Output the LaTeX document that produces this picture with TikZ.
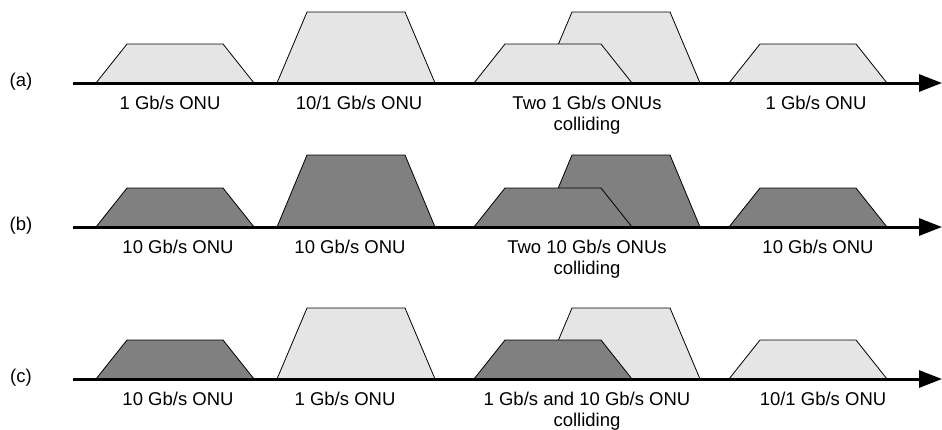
\documentclass[tikz,border=0pt]{standalone}
\usepackage{fontspec}
\setmainfont{Liberation Sans}
\usetikzlibrary{arrows.meta}
\definecolor{lightfill}{HTML}{E5E5E5}
\definecolor{darkfill}{HTML}{808080}
\newcommand\trapz[5]{% style, left x, axis y, height, inset
  \draw[#1] (#2,#3) -- ++(#5,-#4) -- ++({158-2*#5},0) -- ++(#5,#4) -- cycle;}
\begin{document}
\begin{tikzpicture}[x=1pt,y=-1pt,
  light/.style={fill=lightfill,draw=black,line width=0.8pt,line join=miter},
  dark/.style={fill=darkfill,draw=black,line width=0.8pt,line join=miter},
  axisline/.style={line width=3pt,-{Triangle[length=23pt,width=17pt]}},
  lbl/.style={font=\fontsize{18.5}{21}\selectfont,anchor=base,inner sep=0pt,align=center},
  rowlbl/.style={font=\fontsize{18.5}{21}\selectfont,inner sep=0pt}]
\useasboundingbox (0,0) rectangle (942,429);
% ---------- row (a)
\trapz{light}{96}{83}{39}{31}
\trapz{light}{277}{83}{71}{30}
\trapz{light}{542}{83}{71}{30}
\trapz{light}{474}{83}{39}{31}
\trapz{light}{729}{83}{39}{31}
\coordinate (a0) at (73,83);
\coordinate (a1) at (942,83);
\draw[axisline] (a0) -- (a1);
\node[rowlbl] (ra) at (21,82) {(a)};
\node[lbl] (la1) at (170,109.5) {1 Gb/s ONU};
\node[lbl] (la2) at (359,109.5) {10/1 Gb/s ONU};
\node[lbl] (la3) at (587,130.5) {Two 1 Gb/s ONUs\\colliding};
\node[lbl] (la4) at (816,109.5) {1 Gb/s ONU};
% ---------- row (b)
\trapz{dark}{96}{227}{39}{31}
\trapz{dark}{277}{227}{72}{30}
\trapz{dark}{542}{227}{72}{30}
\trapz{dark}{474}{227}{39}{31}
\trapz{dark}{729}{227}{39}{31}
\coordinate (b0) at (73,227);
\coordinate (b1) at (942,227);
\draw[axisline] (b0) -- (b1);
\node[rowlbl] (rb) at (21,226) {(b)};
\node[lbl] (lb1) at (178,253.5) {10 Gb/s ONU};
\node[lbl] (lb2) at (350,253.5) {10 Gb/s ONU};
\node[lbl] (lb3) at (587,274.5) {Two 10 Gb/s ONUs\\colliding};
\node[lbl] (lb4) at (818,253.5) {10 Gb/s ONU};
% ---------- row (c)
\trapz{dark}{96}{379}{39}{31}
\trapz{light}{277}{379}{71}{30}
\trapz{light}{542}{379}{71}{30}
\trapz{dark}{474}{379}{39}{31}
\trapz{light}{729}{379}{39}{31}
\coordinate (c0) at (73,379);
\coordinate (c1) at (942,379);
\draw[axisline] (c0) -- (c1);
\node[rowlbl] (rc) at (21,378) {(c)};
\node[lbl] (lc1) at (178,405.5) {10 Gb/s ONU};
\node[lbl] (lc2) at (345,405.5) {1 Gb/s ONU};
\node[lbl] (lc3) at (587,426.5) {1 Gb/s and 10 Gb/s ONU\\colliding};
\node[lbl] (lc4) at (823,405.5) {10/1 Gb/s ONU};
\end{tikzpicture}
\end{document}
